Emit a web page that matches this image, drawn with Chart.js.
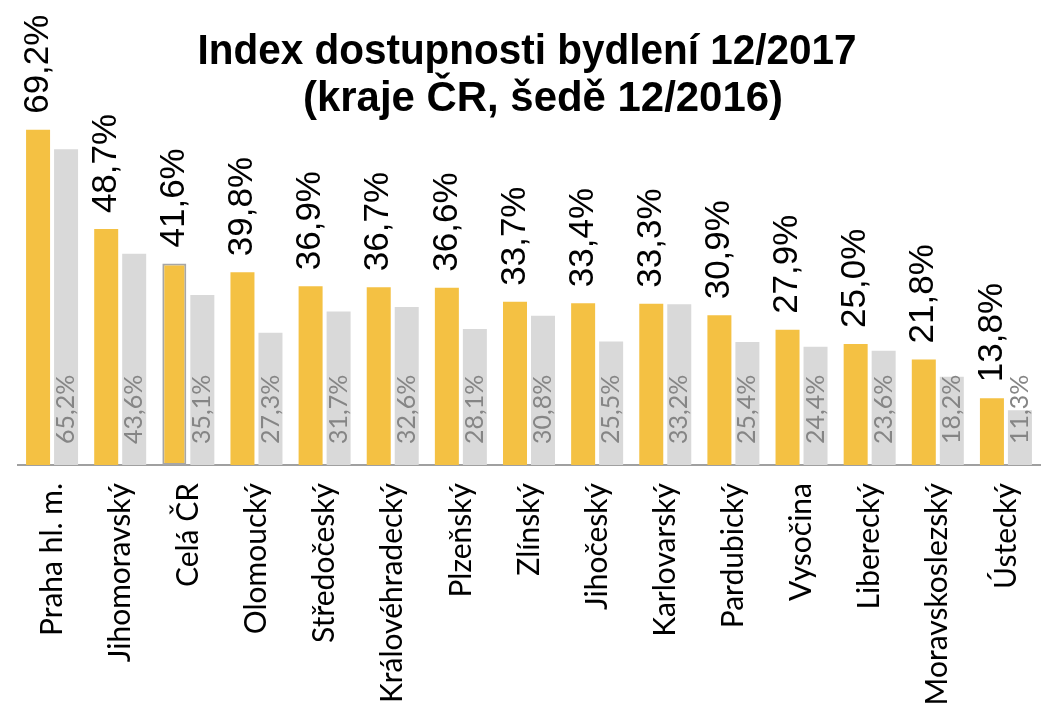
<!DOCTYPE html>
<html>
<head>
<meta charset="utf-8">
<script src="https://cdn.jsdelivr.net/npm/chart.js@4.4.1/dist/chart.umd.min.js"></script>
<style>
html,body{margin:0;padding:0;background:#fff;}
#wrap{width:1052px;height:712px;}
</style>
</head>
<body>
<div id="wrap"><canvas id="c" width="1052" height="712"></canvas></div>
<script>
const categories = ["Praha hl. m.", "Jihomoravský", "Celá ČR", "Olomoucký", "Středočeský", "Královéhradecký", "Plzeňský", "Zlínský", "Jihočeský", "Karlovarský", "Pardubický", "Vysočina", "Liberecký", "Moravskoslezský", "Ústecký"];
const values2017 = [69.2, 48.7, 41.6, 39.8, 36.9, 36.7, 36.6, 33.7, 33.4, 33.3, 30.9, 27.9, 25.0, 21.8, 13.8];
const values2016 = [65.2, 43.6, 35.1, 27.3, 31.7, 32.6, 28.1, 30.8, 25.5, 33.2, 25.4, 24.4, 23.6, 18.2, 11.3];
const titleLines = ["Index dostupnosti bydlení 12/2017", "(kraje ČR, šedě 12/2016)"];
const highlighted = ["Celá ČR"];

const fmt = v => v.toFixed(1).replace('.', ',') + '%';

const labelPlugin = {
  id: 'valueLabels',
  afterDatasetsDraw(chart) {
    const ctx = chart.ctx;
    chart.data.datasets.forEach((ds, di) => {
      const meta = chart.getDatasetMeta(di);
      meta.data.forEach((bar, i) => {
        const v = ds.data[i];
        ctx.save();
        if (di === 0) {
          ctx.translate(bar.x, bar.y - 16);
          ctx.font = '35px "Liberation Sans", Arial, sans-serif';
          ctx.fillStyle = '#000';
        } else {
          ctx.translate(bar.x, bar.base - 21);
          ctx.font = '25px Lato, "Open Sans", sans-serif';
          ctx.fillStyle = '#858585';
        }
        ctx.rotate(-Math.PI / 2);
        ctx.textAlign = 'left';
        ctx.textBaseline = 'middle';
        ctx.fillText(fmt(v), 0, 0);
        ctx.restore();
      });
    });
  }
};

const titlePlugin = {
  id: 'titleDraw',
  afterDraw(chart) {
    const ctx = chart.ctx;
    ctx.save();
    ctx.font = 'bold 42px "Liberation Sans", Arial, sans-serif';
    ctx.fillStyle = '#000';
    ctx.textAlign = 'center';
    ctx.textBaseline = 'alphabetic';
    const layout = [
      { cx: 527, base: 64, width: 659 },
      { cx: 543, base: 111, width: 480 }
    ];
    titleLines.forEach((t, k) => {
      const w = ctx.measureText(t).width;
      const sx = layout[k].width / w;
      ctx.save();
      ctx.translate(layout[k].cx, layout[k].base);
      ctx.scale(sx, 1);
      ctx.fillText(t, 0, 0);
      ctx.restore();
    });
    ctx.restore();
  }
};

function build() {
  new Chart(document.getElementById('c'), {
    type: 'bar',
    data: {
      labels: categories,
      datasets: [
        {
          data: values2017,
          backgroundColor: '#F4C143',
          borderColor: '#a6a6a6',
          borderWidth: categories.map(c => highlighted.includes(c) ? 2 : 0),
          borderSkipped: false,
          categoryPercentage: 0.822,
          barPercentage: 0.857
        },
        {
          data: values2016,
          backgroundColor: '#D9D9D9',
          borderWidth: 0,
          categoryPercentage: 0.822,
          barPercentage: 0.857
        }
      ]
    },
    options: {
      responsive: false,
      animation: false,
      events: [],
      layout: { padding: { left: 18, right: 12, top: 0, bottom: 0 } },
      plugins: { legend: { display: false }, title: { display: false }, tooltip: { enabled: false } },
      scales: {
        y: {
          display: false,
          min: 0,
          max: 96
        },
        x: {
          grid: { display: false, drawTicks: false },
          border: { display: true, color: '#a0a0a0', width: 2 },
          ticks: {
            autoSkip: false,
            maxRotation: 90,
            minRotation: 90,
            padding: 18,
            color: '#000',
            font: { family: 'Lato', size: 30 }
          },
          afterFit(scale) {
            scale.height = 247;
            scale.paddingLeft = 0;
            scale.paddingRight = 0;
          }
        }
      }
    },
    plugins: [labelPlugin, titlePlugin]
  });
}

Promise.all([
  document.fonts.load('30px Lato'),
  document.fonts.load('35px "Liberation Sans"'),
  document.fonts.load('bold 42px "Liberation Sans"')
]).then(build, build);
</script>
</body>
</html>
